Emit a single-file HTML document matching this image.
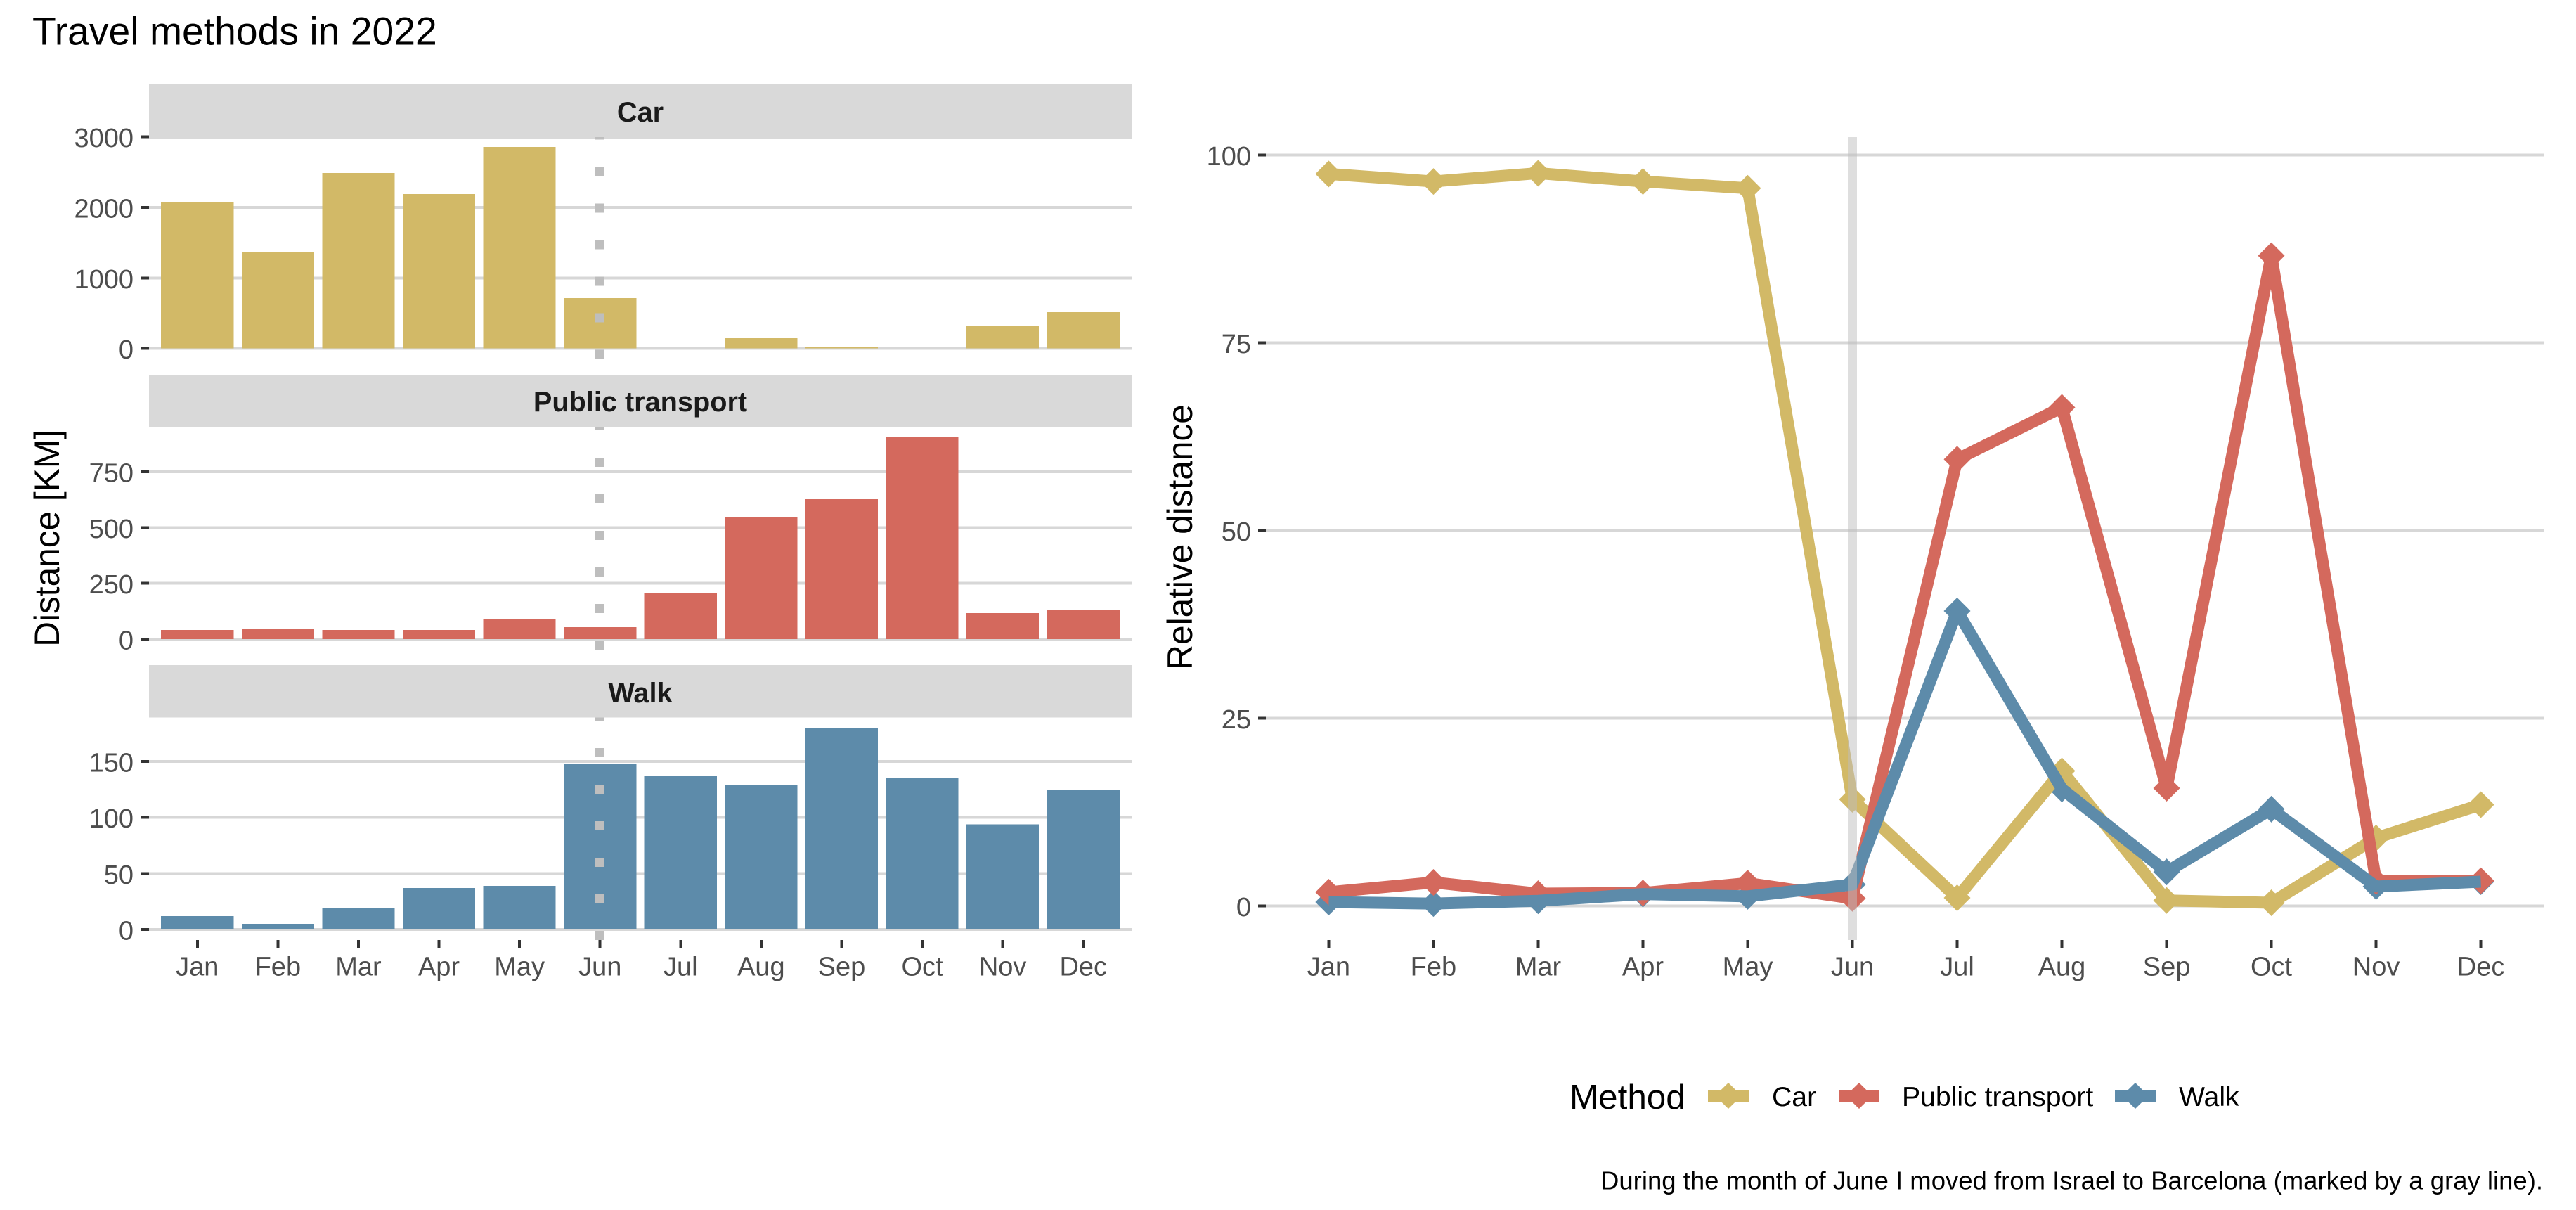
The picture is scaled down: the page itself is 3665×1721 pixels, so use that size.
<!DOCTYPE html>
<html lang="en">
<head>
<meta charset="utf-8">
<title>Travel methods in 2022</title>
<style>
html,body{margin:0;padding:0;background:#fff;}
svg{display:block;font-family:"Liberation Sans",Arial,sans-serif;}
.tick-text{font-size:38px;fill:#4d4d4d;}
.strip-text{font-size:39.7px;font-weight:bold;fill:#1a1a1a;text-anchor:middle;}
.axis-title{font-size:49.6px;fill:#000;text-anchor:middle;}
.legend-text{font-size:39.2px;fill:#000;}
</style>
</head>
<body>
<svg id="chart" xmlns="http://www.w3.org/2000/svg" width="3665" height="1721" viewBox="0 0 3665 1721">
  <rect width="3665" height="1721" fill="#fff"/>
  <text x="46" y="63.5" font-size="55.3" fill="#000">Travel methods in 2022</text>
  <text class="axis-title" transform="translate(84,765.5) rotate(-90)">Distance [KM]</text>
  <text class="axis-title" transform="translate(1696,764) rotate(-90)">Relative distance</text>
  <g id="left-chart"></g>
  <g id="right-chart"></g>
  <g>
    <text x="2233" y="1577" font-size="49.4" fill="#000">Method</text>
    <g>
      <rect x="2430" y="1550" width="58" height="17" fill="#d2b967" shape-rendering="crispEdges"/>
      <polygon points="2459,1540 2478,1558.5 2459,1577 2440,1558.5" fill="#d2b967"/>
      <text class="legend-text" x="2521" y="1573">Car</text>
    </g>
    <g>
      <rect x="2616" y="1550" width="58" height="17" fill="#d4695d" shape-rendering="crispEdges"/>
      <polygon points="2645,1540 2664,1558.5 2645,1577 2626,1558.5" fill="#d4695d"/>
      <text class="legend-text" x="2706" y="1573">Public transport</text>
    </g>
    <g>
      <rect x="3009" y="1550" width="58" height="17" fill="#5d8baa" shape-rendering="crispEdges"/>
      <polygon points="3038,1540 3057,1558.5 3038,1577 3019,1558.5" fill="#5d8baa"/>
      <text class="legend-text" x="3100" y="1573">Walk</text>
    </g>
  </g>
  <text x="3618" y="1691.5" font-size="36.5" fill="#000" text-anchor="end">During the month of June I moved from Israel to Barcelona (marked by a gray line).</text>
</svg>
<script>
const months = ["Jan","Feb","Mar","Apr","May","Jun","Jul","Aug","Sep","Oct","Nov","Dec"];
const moveMonth = "Jun";

const carKm = [2078,1362,2487,2188,2857,714,0,146,28,0,327,516];
const publicKm = [41,44,41,41,88,54,208,548,627,904,117,129];
const walkKm = [12,5,19,37,39,148,137,129,180,135,94,125];

const carTicks = [0,1000,2000,3000];
const publicTicks = [0,250,500,750];
const walkTicks = [0,50,100,150];
const relativeTicks = [0,25,50,75,100];

const carPct = [97.5,96.5,97.6,96.5,95.6,14.2,1.1,18,0.75,0.44,9.07,13.5];
const publicPct = [1.84,3.15,1.66,1.74,3.05,1.03,59.5,66.4,15.7,86.6,3.3,3.37];
const walkPct = [0.53,0.33,0.7,1.6,1.3,2.87,39.3,15.6,4.55,12.9,2.6,3.25];

const NS = "http://www.w3.org/2000/svg";
const GOLD = "#d2b967", RED = "#d4695d", BLUE = "#5d8baa";
const GRID = "#d7d7d7", STRIP = "#d9d9d9", TICK = "#333333";

function make(tag, parent) {
  const el = document.createElementNS(NS, tag);
  parent.appendChild(el);
  return el;
}
function setRect(el, x, y, w, h, fill) {
  el.setAttribute("x", x);
  el.setAttribute("y", y);
  el.setAttribute("width", w);
  el.setAttribute("height", h);
  el.setAttribute("fill", fill);
  el.setAttribute("shape-rendering", "crispEdges");
}

/* ---------- left: faceted bars ---------- */
const leftRoot = document.getElementById("left-chart");
const LEFT_X0 = 212, LEFT_X1 = 1610;
function xBar(i) {
  return LEFT_X0 + (i + 0.6) * (LEFT_X1 - LEFT_X0) / 12.2;
}
const BAND = (LEFT_X1 - LEFT_X0) / 12.2;

function yCar(v) { return 495.7 - v * 0.10037; }
function yPublic(v) { return 909 - v * 0.3173; }
function yWalk(v) { return 1322 - v * 1.593; }

function drawFacet(slug, title, values, ticks, yScale, color, stripTop, stripBottom, textBase, panelBottom, showX) {
  const g = make("g", leftRoot);
  
  

  ticks.forEach(function (t) {
    const y = yScale(t);
    const grid = make("rect", g);
    
    
    setRect(grid, LEFT_X0, y - 2, LEFT_X1 - LEFT_X0, 4, GRID);
    const mark = make("rect", g);
    
    
    setRect(mark, LEFT_X0 - 11, y - 2, 11, 4, TICK);
    const label = make("text", g);
    
    
    label.setAttribute("class", "tick-text");
    label.setAttribute("x", 190);
    label.setAttribute("y", y + 14.5);
    label.setAttribute("text-anchor", "end");
    label.textContent = String(t);
  });

  values.forEach(function (v, i) {
    if (v <= 0) return;
    const bar = make("rect", g);
    
    
    const w = BAND * 0.9;
    setRect(bar, xBar(i) - w / 2, yScale(v), w, yScale(0) - yScale(v), color);
  });

  const strip = make("rect", g);
  
  
  setRect(strip, LEFT_X0, stripTop, LEFT_X1 - LEFT_X0, stripBottom - stripTop, STRIP);

  const stripLabel = make("text", g);
  
  
  stripLabel.setAttribute("class", "strip-text");
  stripLabel.setAttribute("x", (LEFT_X0 + LEFT_X1) / 2);
  stripLabel.setAttribute("y", textBase);
  stripLabel.textContent = title;

  const marker = make("line", g);
  
  
  const mx = xBar(months.indexOf(moveMonth));
  marker.setAttribute("x1", mx);
  marker.setAttribute("x2", mx);
  marker.setAttribute("y1", panelBottom);
  marker.setAttribute("y2", slug === "car" ? stripBottom - 2 : stripBottom);
  marker.setAttribute("stroke", "#bebebe");
  marker.setAttribute("stroke-width", 13);
  marker.setAttribute("stroke-dasharray", "13 39");
  marker.setAttribute("shape-rendering", "crispEdges");

  if (showX) {
    months.forEach(function (m, i) {
      const t = make("rect", g);
      
      
      setRect(t, xBar(i) - 2, panelBottom, 4, 11, TICK);
      const l = make("text", g);
      
      
      l.setAttribute("class", "tick-text");
      l.setAttribute("x", xBar(i));
      l.setAttribute("y", 1387.5);
      l.setAttribute("text-anchor", "middle");
      l.textContent = m;
    });
  }
}

drawFacet("car", "Car", carKm, carTicks, yCar, GOLD, 120, 197, 173, 510.7, false);
drawFacet("public-transport", "Public transport", publicKm, publicTicks, yPublic, RED, 533, 607.7, 585, 924, false);
drawFacet("walk", "Walk", walkKm, walkTicks, yWalk, BLUE, 946, 1020.7, 999, 1337, true);

/* ---------- right: relative lines ---------- */
const rightRoot = document.getElementById("right-chart");
const RIGHT_X0 = 1801, RIGHT_X1 = 3619;
function xLine(i) {
  return RIGHT_X0 + (i + 0.6) * (RIGHT_X1 - RIGHT_X0) / 12.2;
}
function yLine(v) {
  return 1288.7 - v * 10.68;
}

relativeTicks.forEach(function (t) {
  const y = yLine(t);
  const grid = make("rect", rightRoot);
  
  
  setRect(grid, RIGHT_X0, y - 2, RIGHT_X1 - RIGHT_X0, 4, GRID);
  const mark = make("rect", rightRoot);
  
  
  setRect(mark, RIGHT_X0 - 11, y - 2, 11, 4, TICK);
  const label = make("text", rightRoot);
  
  
  label.setAttribute("class", "tick-text");
  label.setAttribute("x", 1780);
  label.setAttribute("y", y + 14.5);
  label.setAttribute("text-anchor", "end");
  label.textContent = String(t);
});

months.forEach(function (m, i) {
  const t = make("rect", rightRoot);
  
  
  setRect(t, xLine(i) - 2, 1337, 4, 11, TICK);
  const l = make("text", rightRoot);
  
  
  l.setAttribute("class", "tick-text");
  l.setAttribute("x", xLine(i));
  l.setAttribute("y", 1387.5);
  l.setAttribute("text-anchor", "middle");
  l.textContent = m;
});

function drawPoints(slug, values, color) {
  const g = make("g", rightRoot);
  
  
  values.forEach(function (v, i) {
    const p = make("polygon", g);
    
    
    const x = xLine(i), y = yLine(v), r = 19;
    p.setAttribute("points", x + "," + (y - r) + " " + (x + r) + "," + y + " " + x + "," + (y + r) + " " + (x - r) + "," + y);
    p.setAttribute("fill", color);
  });
}
function drawLine(slug, values, color) {
  const path = make("polyline", rightRoot);
  
  
  path.setAttribute("points", values.map(function (v, i) { return xLine(i) + "," + yLine(v); }).join(" "));
  path.setAttribute("fill", "none");
  path.setAttribute("stroke", color);
  path.setAttribute("stroke-width", 17);
  path.setAttribute("stroke-linejoin", "round");
  path.setAttribute("stroke-linecap", "butt");
}

drawPoints("walk", walkPct, BLUE);
drawPoints("public-transport", publicPct, RED);
drawPoints("car", carPct, GOLD);
drawLine("car", carPct, GOLD);
drawLine("public-transport", publicPct, RED);
drawLine("walk", walkPct, BLUE);

const moveBar = make("rect", rightRoot);


setRect(moveBar, xLine(months.indexOf(moveMonth)) - 6.3, 195, 12.6, 1142, "rgba(190,190,190,0.5)");
</script>
</body>
</html>
